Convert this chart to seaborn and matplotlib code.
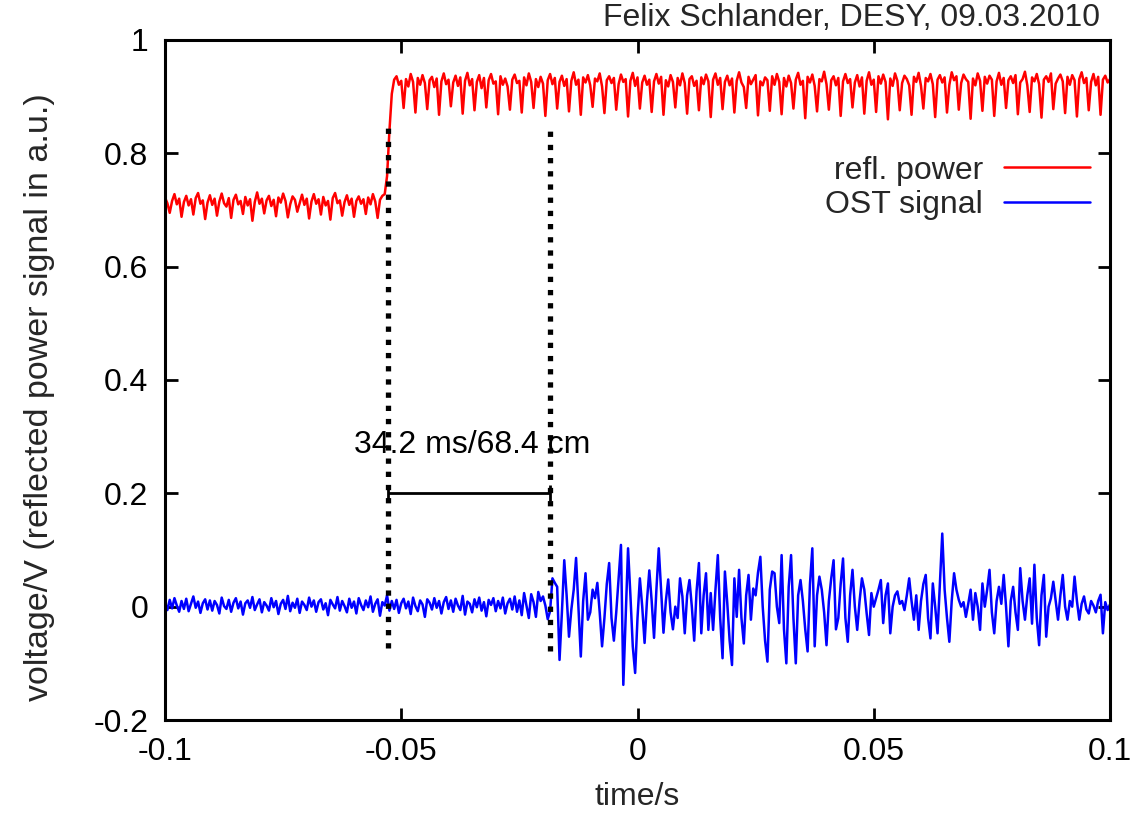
import numpy as np
import matplotlib
matplotlib.use("Agg")
import matplotlib.pyplot as plt
import seaborn as sns

# sampling grid of the scope trace (s)
t_start = -0.1
t_step = 0.0005

# reflected power, mV, one row = 10 ms
refl_mv = [
    722, 712, 695, 716, 728, 710, 720, 688, 714, 725, 708, 719, 692, 721, 730, 711, 717, 684, 713, 726,
    709, 720, 690, 715, 729, 712, 706, 721, 686, 718, 727, 710, 716, 693, 723, 708, 719, 681, 714, 731,
    711, 720, 694, 717, 725, 707, 718, 689, 722, 713, 729, 716, 687, 710, 724, 718, 697, 712, 727, 709,
    720, 685, 715, 728, 711, 719, 692, 723, 708, 716, 683, 721, 730, 712, 717, 690, 714, 726, 709, 720,
    688, 716, 724, 711, 719, 693, 722, 710, 728, 715, 686, 718, 725, 728, 760, 840, 905, 930, 936, 921,
    928, 880, 931, 918, 940, 926, 872, 933, 921, 938, 924, 878, 929, 935, 917, 932, 868, 927, 941, 922,
    930, 883, 925, 937, 919, 934, 870, 928, 942, 920, 931, 876, 926, 938, 915, 933, 881, 929, 940, 923,
    927, 869, 936, 921, 932, 918, 877, 930, 939, 924, 928, 872, 934, 920, 941, 926, 880, 931, 917, 935,
    923, 866, 929, 940, 922, 933, 879, 926, 937, 919, 931, 874, 928, 943, 921, 930, 868, 934, 925, 938,
    920, 882, 932, 927, 941, 918, 871, 929, 936, 924, 933, 877, 922, 939, 926, 931, 865, 928, 942, 919,
    934, 879, 925, 937, 921, 930, 873, 927, 940, 923, 935, 868, 929, 918, 938, 926, 881, 933, 920, 941,
    924, 870, 931, 936, 919, 928, 876, 934, 922, 939, 927, 864, 930, 941, 921, 933, 878, 926, 937, 920,
    932, 872, 928, 943, 925, 917, 880, 935, 922, 930, 938, 867, 927, 920, 934, 929, 875, 936, 921, 940,
    926, 869, 933, 918, 937, 924, 879, 930, 942, 921, 928, 862, 935, 925, 939, 919, 874, 931, 927, 944,
    922, 877, 929, 936, 920, 933, 866, 927, 940, 924, 931, 881, 925, 938, 918, 934, 870, 928, 943, 921,
    930, 873, 936, 923, 939, 926, 860, 932, 919, 941, 928, 876, 924, 937, 931, 920, 868, 935, 926, 942,
    919, 879, 933, 927, 940, 922, 864, 930, 938, 925, 934, 872, 921, 943, 929, 936, 877, 924, 939, 931,
    926, 861, 932, 920, 941, 928, 875, 935, 923, 937, 930, 866, 927, 942, 921, 933, 880, 929, 936, 924,
    938, 869, 925, 931, 944, 920, 873, 934, 927, 940, 922, 863, 930, 936, 926, 941, 878, 923, 932, 939,
    927, 871, 935, 921, 938, 929, 865, 931, 943, 924, 933, 876, 926, 940, 920, 935, 868, 930, 937, 925,
    931,
]

# OST signal, mV, one row = 10 ms
ost_mv = [
    8, -6, 12, -3, 15, 2, -9, 10, -4, 14, -8, 5, 18, -2, 9, -11, 6, 13, -5, 11,
    -7, 10, 3, -12, 16, 1, -4, 12, -9, 7, 15, -3, 9, -14, 6, 11, -2, 17, -6, 4,
    13, -10, 8, 2, -7, 15, -1, 10, -13, 5, 12, -4, 19, -8, 7, -2, 14, -11, 9, 3,
    -6, 16, 0, 11, -9, 8, 13, -5, 6, -15, 12, 4, -3, 17, -7, 10, 1, -10, 14, -2,
    9, -12, 15, 3, -6, 11, -1, 18, -9, 5, 13, -16, 8, 2, 20, -7, 10, -4, 12, -11,
    6, 14, -3, 9, -13, 16, 1, -8, 11, 4, -18, 13, 7, -5, 15, -2, 10, -12, 8, 17,
    -4, 11, -9, 14, 2, -6, 19, -14, 9, 5, -10, 13, -1, 16, -7, 8, -17, 12, 3, 15,
    -8, 10, -3, 16, -12, 6, 14, -5, 18, -9, 11, -15, 24, 2, -20, 22, 8, -18, 26, 10,
    18, 2, -22, -8, 50, 42, 35, -94, -10, 82, 20, -53, -5, 30, 86, 0, -88, 10, 59, -23,
    -10, 30, 15, 42, -10, -70, -20, 40, 77, -20, -60, -10, 50, 109, -138, -20, 103, 20, -70, -117,
    -20, 50, 0, -64, 10, 64, 10, -55, 30, 103, 30, -46, 10, 48, -10, -40, 0, -20, 50, 18,
    -47, 20, 47, 0, -60, 27, 77, -47, 20, 59, -41, 24, -41, 30, 91, -20, -91, 62, 6, -60,
    -103, 50, -18, 65, -20, -65, 20, 56, -23, 32, 20, 60, 88, 0, -60, -97, 30, 62, 59, 0,
    -29, 91, -40, -100, 35, 91, -20, -100, 20, 47, 10, -40, -79, 40, 103, -70, 20, 53, 30, -10,
    -68, 10, 50, 82, -40, -20, 40, 85, -20, -62, 20, 65, 0, -41, 10, 50, 30, -12, -50, 24,
    0, 15, 30, 47, -29, 20, 41, -47, 0, 20, 27, 5, 10, -6, 20, 50, 10, -23, 20, -41,
    10, 40, 56, -20, -56, 41, 0, -47, 40, 129, 30, -20, -62, 10, 59, 30, 12, 0, 8, -18,
    5, 30, -23, 24, 0, -41, 41, 0, 30, 65, -10, -47, 10, 35, 5, 56, 0, -70, 10, 35,
    -10, -41, 68, 10, -23, 20, 50, -30, 74, -20, -68, 20, 56, -53, 0, 15, 44, 10, -23, 20,
    56, 0, -23, 10, 0, 53, 10, -23, 5, 18, -5, -12, 10, 2, -10, 10, 21, -47, 8, -6,
    4,
]

# the two markers, the bar between them and its label
marker_t = [-0.0527, -0.0185]
marker_top = [0.853, 0.847]
marker_bottom = [-0.073, -0.078]
bar_level = 0.2
bar_label = "34.2 ms/68.4 cm"
label_pos = (-0.0349, 0.285)

x_ticks = [-0.1, -0.05, 0, 0.05, 0.1]
x_ticklabels = ["-0.1", "-0.05", "0", "0.05", "0.1"]
y_ticks = [-0.2, 0, 0.2, 0.4, 0.6, 0.8, 1.0]
y_ticklabels = ["-0.2", "0", "0.2", "0.4", "0.6", "0.8", "1"]

credit = "Felix Schlander, DESY, 09.03.2010"

sns.set_theme(style="ticks")
plt.rcParams["font.family"] = ["Liberation Sans", "DejaVu Sans"]
fs = 23

refl_v = np.array(refl_mv) / 1000.0
ost_v = np.array(ost_mv) / 1000.0
refl_t = t_start + t_step * np.arange(len(refl_v))
ost_t = t_start + t_step * np.arange(len(ost_v))

fig = plt.figure(figsize=(11.48, 8.15), dpi=100)
ax = fig.add_axes([165 / 1148, 95 / 815, 945 / 1148, 680 / 815])

sns.lineplot(x=refl_t, y=refl_v, ax=ax, color="#ff0000", lw=1.8,
             estimator=None, sort=False, label="refl. power")
sns.lineplot(x=ost_t, y=ost_v, ax=ax, color="#0000ff", lw=1.8,
             estimator=None, sort=False, label="OST signal")

# dotted markers
for t, top, bot in zip(marker_t, marker_top, marker_bottom):
    ax.plot([t, t], [bot, top], color="black", lw=3.8,
            linestyle=(0, (1, 1.5)), dash_capstyle="butt", zorder=3)

mid = (marker_t[0] + marker_t[1]) / 2
half = (marker_t[1] - marker_t[0]) / 2
ax.errorbar([mid], [bar_level], xerr=[half], fmt="none", ecolor="black",
            elinewidth=2, capsize=5.5, capthick=2, zorder=4)
ax.text(label_pos[0], label_pos[1], bar_label, ha="center", va="center",
        fontsize=fs, color="black")

ax.set_xlim(-0.1, 0.1)
ax.set_ylim(-0.2, 1.0)
ax.set_xticks(x_ticks)
ax.set_xticklabels(x_ticklabels)
ax.set_yticks(y_ticks)
ax.set_yticklabels(y_ticklabels)
ax.tick_params(direction="in", length=9, width=2, labelsize=fs, pad=12,
               top=True, right=True, colors="black")
for s in ax.spines.values():
    s.set_visible(True)
    s.set_linewidth(2.2)
    s.set_color("black")

ax.set_xlabel("time/s", fontsize=fs, labelpad=11)
ax.set_ylabel("voltage/V (reflected power signal in a.u.)", fontsize=24.5, labelpad=14)
ax.yaxis.set_label_coords(-0.116, 0.475)

ax.legend(loc="upper right", bbox_to_anchor=(0.979, 0.83), frameon=False,
          fontsize=fs, markerfirst=False, handlelength=2.7, handletextpad=0.65,
          labelspacing=0.15, borderpad=0, borderaxespad=0)

fig.text(1100 / 1148, 1 - 18 / 815, credit, ha="right", va="center", fontsize=fs)

fig.savefig("out.png", dpi=100)
